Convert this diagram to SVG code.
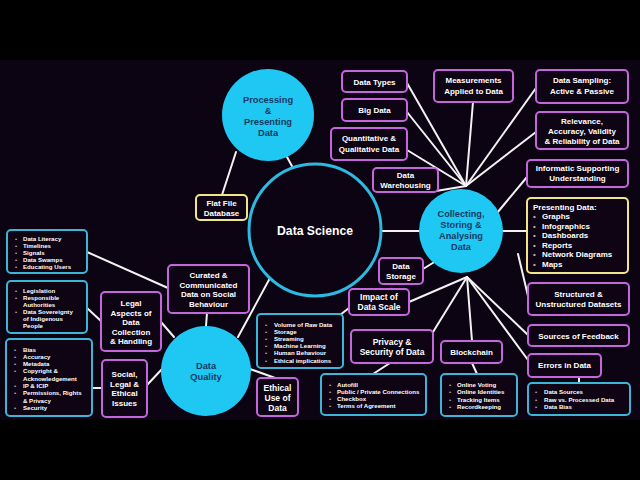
<svg xmlns="http://www.w3.org/2000/svg" width="640" height="480" viewBox="0 0 640 480">
<style>
.bg{fill:#0c0313}
.p{fill:#0e0414;stroke:#c466dc;stroke-width:2}
.c{fill:#0e0414;stroke:#3db5d6;stroke-width:2}
.y{fill:#0e0414;stroke:#efe68c;stroke-width:2}
.hub{fill:#1ec8f2}
.ds{fill:#0c0313;stroke:#2eb9e0;stroke-width:3}
text{font-family:"Liberation Sans",Arial,sans-serif;font-weight:bold;fill:#ffffff}
.t{font-size:8px;text-anchor:middle}
.tb{font-size:8.5px;text-anchor:middle}
.ct{font-size:9.3px;text-anchor:middle;fill:#173a63}
.s{font-size:6.1px}
.m{font-size:8px}
.b{fill:#b0b0b0}
#conn line{stroke:#f2f2f2;stroke-width:2;stroke-linecap:round}
</style>
<rect x="0" y="0" width="640" height="480" fill="#000"/>
<rect class="bg" x="0" y="60" width="640" height="360"/>
<g id="conn">
<line x1="236" y1="152" x2="222" y2="195"/>
<line x1="287" y1="157" x2="293" y2="168"/>
<line x1="382" y1="231" x2="420" y2="231"/>
<line x1="270" y1="278" x2="238" y2="337"/>
<line x1="207" y1="313" x2="206" y2="326"/>
<line x1="161" y1="322" x2="174" y2="337"/>
<line x1="147" y1="385" x2="163" y2="368"/>
<line x1="250" y1="369" x2="278" y2="379"/>
<line x1="87" y1="252" x2="168" y2="288"/>
<line x1="87" y1="308" x2="102" y2="322"/>
<line x1="92" y1="388" x2="102" y2="388"/>
<line x1="349" y1="308" x2="340" y2="315"/>
<line x1="390" y1="363" x2="373" y2="374"/>
<line x1="472" y1="363" x2="477" y2="374"/>
<line x1="579" y1="377" x2="579" y2="383"/>
<line x1="407" y1="83" x2="466" y2="186"/>
<line x1="407" y1="112" x2="466" y2="186"/>
<line x1="407" y1="150" x2="466" y2="186"/>
<line x1="473" y1="102" x2="466" y2="186"/>
<line x1="536" y1="88" x2="466" y2="186"/>
<line x1="536" y1="132" x2="466" y2="186"/>
<line x1="430" y1="192" x2="466" y2="186"/>
<line x1="527" y1="177" x2="497" y2="213"/>
<line x1="503" y1="231" x2="527" y2="231"/>
<line x1="518" y1="254" x2="528" y2="296"/>
<line x1="423" y1="269" x2="436" y2="261"/>
<line x1="409" y1="302" x2="467" y2="277"/>
<line x1="433" y1="332" x2="467" y2="277"/>
<line x1="472" y1="341" x2="467" y2="277"/>
<line x1="528" y1="335" x2="467" y2="277"/>
<line x1="528" y1="360" x2="467" y2="277"/>
</g>
<g id="n-processing"><circle class="hub" cx="268" cy="115" r="46"/>
<text class="ct" x="268" y="103">Processing</text><text class="ct" x="268" y="114">&amp;</text><text class="ct" x="268" y="125">Presenting</text><text class="ct" x="268" y="136">Data</text></g>
<g id="n-datascience"><circle class="ds" cx="315" cy="230" r="66"/>
<text x="315" y="235" font-size="12.2" text-anchor="middle">Data Science</text></g>
<g id="n-collecting"><circle class="hub" cx="461" cy="231" r="42"/>
<text class="ct" x="461" y="216.5" style="font-size:9.2px">Collecting,</text><text class="ct" x="461" y="227.5" style="font-size:9.2px">Storing &amp;</text><text class="ct" x="461" y="239" style="font-size:9.2px">Analysing</text><text class="ct" x="461" y="250" style="font-size:9.2px">Data</text></g>
<g id="n-quality"><circle class="hub" cx="206" cy="371" r="45"/>
<text class="ct" x="206" y="368.5">Data</text><text class="ct" x="206" y="379.5">Quality</text></g>

<g id="n-flatfile"><rect class="y" x="196" y="195" width="51" height="25" rx="4"/>
<text class="t" x="221.5" y="206">Flat File</text><text class="t" x="221.5" y="216">Database</text></g>
<g id="n-datatypes"><rect class="p" x="342" y="71" width="65" height="21" rx="4"/><text class="t" x="374.5" y="84.5">Data Types</text></g>
<g id="n-bigdata"><rect class="p" x="342" y="99" width="65" height="22" rx="4"/><text class="t" x="374.5" y="113">Big Data</text></g>
<g id="n-quant"><rect class="p" x="331" y="128" width="76" height="32" rx="4"/><text class="t" x="369" y="141">Quantitative &amp;</text><text class="t" x="369" y="152">Qualitative Data</text></g>
<g id="n-warehousing"><rect class="p" x="373" y="168" width="65" height="24" rx="4"/><text class="t" x="405.5" y="178">Data</text><text class="t" x="405.5" y="188">Warehousing</text></g>
<g id="n-measure"><rect class="p" x="434" y="70" width="79" height="32" rx="4"/><text class="t" x="473.5" y="83">Measurements</text><text class="t" x="473.5" y="94">Applied to Data</text></g>
<g id="n-sampling"><rect class="p" x="536" y="70" width="92" height="33" rx="4"/><text class="t" x="582" y="83">Data Sampling:</text><text class="t" x="582" y="94">Active &amp; Passive</text></g>
<g id="n-relevance"><rect class="p" x="536" y="112" width="92" height="37" rx="4"/><text class="t" x="582" y="124">Relevance,</text><text class="t" x="582" y="134">Accuracy, Validity</text><text class="t" x="582" y="144">&amp; Reliability of Data</text></g>
<g id="n-informatic"><rect class="p" x="527" y="160" width="101" height="27" rx="4"/><text class="t" x="577.5" y="171">Informatic Supporting</text><text class="t" x="577.5" y="181">Understanding</text></g>
<g id="n-presenting"><rect class="y" x="527" y="198" width="101" height="75" rx="4"/>
<text class="m" x="533" y="210">Presenting Data:</text>
<text class="m b" x="533" y="219">•</text><text class="m" x="542" y="219">Graphs</text>
<text class="m b" x="533" y="228.6">•</text><text class="m" x="542" y="228.6">Infographics</text>
<text class="m b" x="533" y="238.2">•</text><text class="m" x="542" y="238.2">Dashboards</text>
<text class="m b" x="533" y="247.8">•</text><text class="m" x="542" y="247.8">Reports</text>
<text class="m b" x="533" y="257.4">•</text><text class="m" x="542" y="257.4">Network Diagrams</text>
<text class="m b" x="533" y="267">•</text><text class="m" x="542" y="267">Maps</text></g>
<g id="n-structured"><rect class="p" x="528" y="283" width="101" height="32" rx="4"/><text class="t" x="578.5" y="297">Structured &amp;</text><text class="t" x="578.5" y="307">Unstructured Datasets</text></g>
<g id="n-feedback"><rect class="p" x="528" y="325" width="101" height="21" rx="4"/><text class="t" x="578.5" y="338.5">Sources of Feedback</text></g>
<g id="n-errors"><rect class="p" x="528" y="354" width="73" height="23" rx="4"/><text class="t" x="564.5" y="368">Errors in Data</text></g>
<g id="n-errlist"><rect class="c" x="528" y="383" width="102" height="32" rx="4"/>
<text class="s b" x="535" y="394">•</text><text class="s" x="544" y="394">Data Sources</text>
<text class="s b" x="535" y="401.5">•</text><text class="s" x="544" y="401.5">Raw vs. Processed Data</text>
<text class="s b" x="535" y="409">•</text><text class="s" x="544" y="409">Data Bias</text></g>
<g id="n-blockchain"><rect class="p" x="441" y="341" width="61" height="22" rx="4"/><text class="t" x="471.5" y="355">Blockchain</text></g>
<g id="n-blocklist"><rect class="c" x="441" y="374" width="76" height="42" rx="4"/>
<text class="s b" x="449" y="386.5">•</text><text class="s" x="457" y="386.5">Online Voting</text>
<text class="s b" x="449" y="394">•</text><text class="s" x="457" y="394">Online Identities</text>
<text class="s b" x="449" y="401.5">•</text><text class="s" x="457" y="401.5">Tracking Items</text>
<text class="s b" x="449" y="408.5">•</text><text class="s" x="457" y="408.5">Recordkeeping</text></g>
<g id="n-storage"><rect class="p" x="379" y="258" width="44" height="26" rx="4"/><text class="t" x="401" y="269">Data</text><text class="t" x="401" y="279">Storage</text></g>
<g id="n-impact"><rect class="p" x="349" y="289" width="60" height="26" rx="4"/><text class="tb" x="379" y="300">Impact of</text><text class="tb" x="379" y="310">Data Scale</text></g>
<g id="n-volume"><rect class="c" x="257" y="314" width="86" height="54" rx="4"/>
<text class="s b" x="265" y="326.5">•</text><text class="s" x="274" y="326.5">Volume of Raw Data</text>
<text class="s b" x="265" y="333.7">•</text><text class="s" x="274" y="333.7">Storage</text>
<text class="s b" x="265" y="340.9">•</text><text class="s" x="274" y="340.9">Streaming</text>
<text class="s b" x="265" y="348.1">•</text><text class="s" x="274" y="348.1">Machine Learning</text>
<text class="s b" x="265" y="355.3">•</text><text class="s" x="274" y="355.3">Human Behaviour</text>
<text class="s b" x="265" y="362.5">•</text><text class="s" x="274" y="362.5">Ethical implications</text></g>
<g id="n-privacy"><rect class="p" x="351" y="330" width="82" height="33" rx="4"/><text class="tb" x="392" y="345">Privacy &amp;</text><text class="tb" x="392" y="355">Security of Data</text></g>
<g id="n-autofill"><rect class="c" x="321" y="374" width="105" height="41" rx="4"/>
<text class="s b" x="329" y="386.5">•</text><text class="s" x="337" y="386.5">Autofill</text>
<text class="s b" x="329" y="393.5">•</text><text class="s" x="337" y="393.5">Public / Private Connections</text>
<text class="s b" x="329" y="400.5">•</text><text class="s" x="337" y="400.5">Checkbox</text>
<text class="s b" x="329" y="407.5">•</text><text class="s" x="337" y="407.5">Terms of Agreement</text></g>
<g id="n-ethical"><rect class="p" x="257" y="378" width="41" height="38" rx="4"/><text class="tb" x="277.5" y="391">Ethical</text><text class="tb" x="277.5" y="401">Use of</text><text class="tb" x="277.5" y="411">Data</text></g>
<g id="n-curated"><rect class="p" x="168" y="265" width="81" height="48" rx="4"/><text class="t" x="208.5" y="278">Curated &amp;</text><text class="t" x="208.5" y="287.7">Communicated</text><text class="t" x="208.5" y="297.4">Data on Social</text><text class="t" x="208.5" y="307">Behaviour</text></g>
<g id="n-legal"><rect class="p" x="101" y="292" width="60" height="59" rx="4"/><text class="t" x="131" y="306">Legal</text><text class="t" x="131" y="315.5">Aspects of</text><text class="t" x="131" y="325">Data</text><text class="t" x="131" y="334.5">Collection</text><text class="t" x="131" y="344">&amp; Handling</text></g>
<g id="n-social"><rect class="p" x="102" y="360" width="45" height="57" rx="4"/><text class="t" x="124.5" y="377">Social,</text><text class="t" x="124.5" y="386.7">Legal &amp;</text><text class="t" x="124.5" y="396.4">Ethical</text><text class="t" x="124.5" y="406">Issues</text></g>
<g id="n-literacy"><rect class="c" x="7" y="230" width="80" height="43" rx="4"/>
<text class="s b" x="15" y="240.5">•</text><text class="s" x="23" y="240.5">Data Literacy</text>
<text class="s b" x="15" y="247.7">•</text><text class="s" x="23" y="247.7">Timelines</text>
<text class="s b" x="15" y="254.9">•</text><text class="s" x="23" y="254.9">Signals</text>
<text class="s b" x="15" y="262.1">•</text><text class="s" x="23" y="262.1">Data Swamps</text>
<text class="s b" x="15" y="269.3">•</text><text class="s" x="23" y="269.3">Educating Users</text></g>
<g id="n-legislation"><rect class="c" x="7" y="281" width="80" height="52" rx="4"/>
<text class="s b" x="15" y="292.5">•</text><text class="s" x="23" y="292.5">Legislation</text>
<text class="s b" x="15" y="299.6">•</text><text class="s" x="23" y="299.6">Responsible</text>
<text class="s" x="23" y="306.7">Authorities</text>
<text class="s b" x="15" y="313.8">•</text><text class="s" x="23" y="313.8">Data Sovereignty</text>
<text class="s" x="23" y="320.9">of Indigenous</text>
<text class="s" x="23" y="328">People</text></g>
<g id="n-bias"><rect class="c" x="6" y="339" width="86" height="77" rx="4"/>
<text class="s b" x="14" y="351.5">•</text><text class="s" x="23" y="351.5">Bias</text>
<text class="s b" x="14" y="358.8">•</text><text class="s" x="23" y="358.8">Accuracy</text>
<text class="s b" x="14" y="366.1">•</text><text class="s" x="23" y="366.1">Metadata</text>
<text class="s b" x="14" y="373.4">•</text><text class="s" x="23" y="373.4">Copyright &amp;</text>
<text class="s" x="23" y="380.7">Acknowledgement</text>
<text class="s b" x="14" y="388">•</text><text class="s" x="23" y="388">IP &amp; ICIP</text>
<text class="s b" x="14" y="395.3">•</text><text class="s" x="23" y="395.3">Permissions, Rights</text>
<text class="s" x="23" y="402.6">&amp; Privacy</text>
<text class="s b" x="14" y="409.9">•</text><text class="s" x="23" y="409.9">Security</text></g>
</svg>
